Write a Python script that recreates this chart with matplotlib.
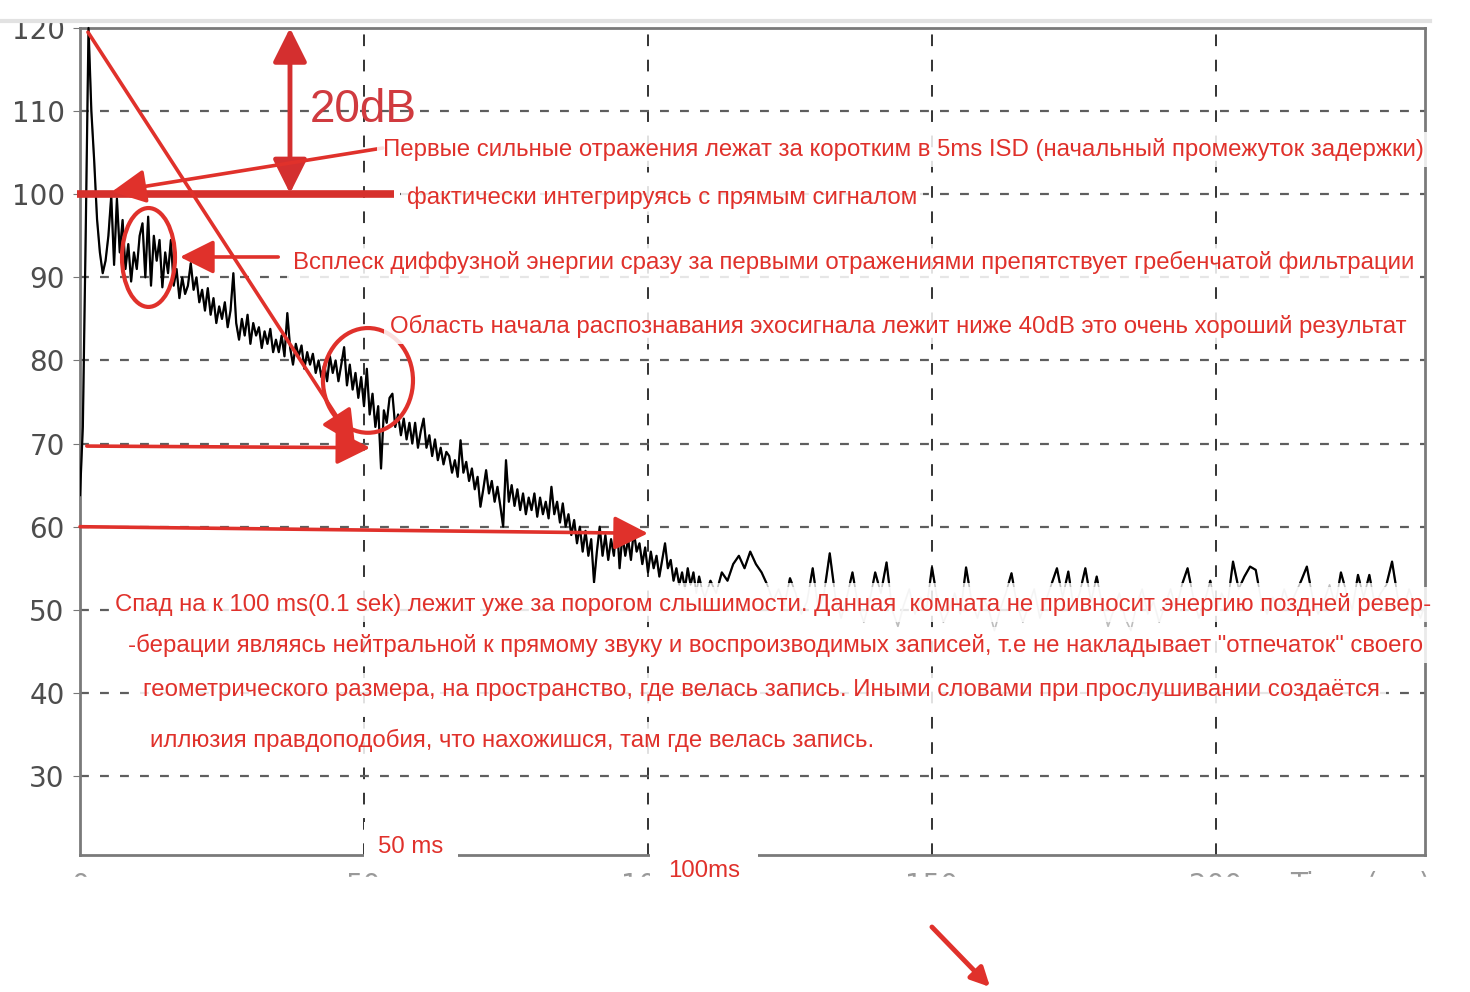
import numpy as np
import matplotlib.pyplot as plt
from matplotlib.patches import Ellipse, Rectangle, FancyArrowPatch
from matplotlib.lines import Line2D

plt.rcParams['font.family'] = ['Liberation Sans', 'DejaVu Sans']

# ─── DATOS ─────────────────────────────────────────────
# curva energía-tiempo, paso 0.5 ms desde 0 hasta 109.5 ms (dB)
PASO_INICIO = 0.5
nivel_inicio = [
    63.8, 72, 95, 120, 110, 104, 97, 93, 90.5, 92,
    95, 99.8, 91.5, 99.5, 93, 96.9, 91, 94, 89.5, 93,
    91, 95, 96.5, 90, 97.3, 89, 95, 92, 94.5, 88.8,
    93, 90.5, 94.5, 89, 91, 87.5, 90, 88, 89, 91.7,
    88.5, 90, 87, 88.5, 86, 88.7, 85.5, 87.5, 84.5, 86.5,
    85, 87, 84, 86, 90.5, 84.5, 82.5, 85, 83, 85.5,
    82, 84.5, 83, 84, 81.5, 83.5, 82, 83.8, 81, 82.5,
    81, 83, 80.5, 85.7, 81.5, 79.5, 82, 80.5, 81.8, 79,
    81, 79.5, 80.8, 78.5, 80, 78, 79.5, 77.5, 80.5, 78.5,
    80, 77.5, 79.5, 81.6, 77, 79.5, 76.5, 78.5, 75.5, 78,
    74.5, 79, 73.5, 76, 72, 74.5, 67, 74, 72.5, 75.5,
    76, 72, 73.5, 71, 73, 70.5, 72.5, 70, 72.5, 69.5,
    71.5, 73, 69.5, 71, 68.5, 70.5, 68, 69.5, 67.5, 69,
    68.5, 66.5, 68, 66, 70.4, 66.5, 67.8, 65.5, 67, 64.5,
    66, 62.4, 64.5, 66.8, 64, 65.5, 63, 64.8, 62.5, 60,
    68, 63, 65, 62.5, 64.5, 62, 64, 61.5, 63.5, 62,
    64, 61.2, 63.5, 61.5, 63, 61, 64.8, 61.5, 63, 60.5,
    62.8, 60, 61.5, 59, 60.8, 58, 60, 57, 59.5, 56.5,
    58.5, 53.3, 57, 60, 56.5, 59, 56, 58.5, 56.5, 60.8,
    55, 59, 56.5, 58.5, 56, 59.5, 57, 58, 55.5, 57.5,
    54.5, 57, 55, 56.5, 54, 56, 58, 55, 56, 53.5,
    55, 53, 54.5, 52.5, 55, 53, 54.5, 52, 54, 52.5,
]
# cola de ruido, paso 1 ms desde 110 hasta 237 ms (dB)
T_COLA = 110
PASO_COLA = 1.0
nivel_cola = [
    51.5, 53.5, 52, 54.5, 53.5, 55.5, 56.5, 55, 57, 55.5,
    54.5, 53, 51, 52.5, 50.5, 53.8, 52, 49.5, 51, 55,
    50, 52, 56.8, 51.5, 49, 51.5, 54.5, 50.5, 48.5, 51,
    54.5, 52, 55.7, 50, 48, 50.5, 52.5, 49.5, 51.5, 50,
    55.1, 51, 48.5, 50, 52, 49.5, 55.1, 51, 49, 51.5,
    50, 47.5, 50, 52, 54.4, 50.5, 48.5, 50.5, 52.5, 49,
    51, 53, 55, 51.5, 54.6, 50, 52, 55, 51, 54,
    50.5, 48, 50, 52, 49, 47.5, 50.5, 52.5, 49.5, 51,
    48.5, 50.5, 52.5, 50, 53, 55, 51.5, 49, 51, 53.5,
    50, 52, 50.5, 55.8, 52.5, 54, 55.2, 54.8, 51, 49.5,
    51.5, 50, 52.5, 50.5, 52, 53.5, 55.2, 51.5, 49.5, 51,
    53, 50.5, 54.5, 52, 50, 54.2, 51.5, 54.2, 50.5, 52,
    53, 55.8, 51.5, 50, 52.5, 50.5, 49, 51,
]
UMBRAL = 53.2        # debajo de este nivel el trazo negro queda recortado

y_ticks = [30, 40, 50, 60, 70, 80, 90, 100, 110, 120]
x_ticks = [0, 50, 100, 150, 200]
x_tick_labels = ['0', '50', '100', '150', '200']

ROJO = '#e0312b'

textos = [
    ("Первые сильные отражения лежат за коротким в 5ms ISD (начальный промежуток задержки)", 53.35, 105.44),
    ("фактически интегрируясь с прямым сигналом", 57.57, 99.55),
    ("Всплеск диффузной энергии сразу за первыми отражениями препятствует гребенчатой фильтрации", 37.5, 91.84),
    ("Область начала распознавания эхосигнала лежит ниже 40dB это очень хороший результат", 54.6, 84.14),
    ("Спад на к 100 ms(0.1 sek) лежит уже за порогом слышимости. Данная  комната не привносит энергию поздней ревер-", 6.16, 50.69),
    ("-берации являясь нейтральной к прямому звуку и воспроизводимых записей, т.е не накладывает \"отпечаток\" своего", 8.45, 45.76),
    ("геометрического размера, на пространство, где велась запись. Иными словами при прослушивании создаётся", 11.1, 40.35),
    ("иллюзия правдоподобия, что нахожишся, там где велась запись.", 12.3, 34.33),
]

# (cola, punta) de las flechas rojas en ms / dB
flechas = [
    ((53.3, 105.56), (5.6, 100.3)),
    ((34.9, 92.45), (17.6, 92.45)),
    ((1.4, 119.5), (48.4, 69.9)),
    ((1.2, 69.7), (51.1, 69.5)),
    ((0.0, 60.0), (100.0, 59.2)),
]

t = np.concatenate([np.arange(len(nivel_inicio)) * PASO_INICIO,
                    T_COLA + np.arange(len(nivel_cola)) * PASO_COLA])
nivel = np.array(nivel_inicio + nivel_cola)

# ─── FIGURA ────────────────────────────────────────────
fig = plt.figure(figsize=(14.7, 9.92), dpi=100)
ax = fig.add_axes([80 / 1470, 1 - 855 / 992, 1345 / 1470, 827 / 992])
ax.set_xlim(0, 236.8)
ax.set_ylim(20.5, 120)

ax.set_yticks(y_ticks)
ax.set_xticks(x_ticks)
ax.set_xticklabels(x_tick_labels)
ax.set_axisbelow(True)
ax.grid(True, axis='y', color='#5e5e5e', lw=1.6, linestyle=(0, (4, 5)))
ax.grid(True, axis='x', color='#333333', lw=1.4, linestyle=(0, (6, 7)))
for s in ax.spines.values():
    s.set_color('#7a7a7a')
    s.set_linewidth(2)
ax.tick_params(axis='y', labelsize=20, labelcolor='#4d4d4d', length=5, color='#777777', pad=6)
ax.tick_params(axis='x', labelsize=20, labelcolor='#999999', length=0, pad=12)
for lab in ax.get_yticklabels() + ax.get_xticklabels():
    lab.set_fontfamily('DejaVu Sans')

# curva: gris por debajo del umbral, negra por encima
ax.plot(t, nivel, color='#bdbdbd', lw=1.2, zorder=2)
linea, = ax.plot(t, nivel, color='black', lw=1.6, zorder=3)
linea.set_clip_path(Rectangle((0, UMBRAL), 300, 100, transform=ax.transData))

# anotaciones
ax.plot([-0.5, 55.2], [100, 100], color='#d6302c', lw=5.5,
        solid_capstyle='butt', clip_on=False, zorder=4)
ax.annotate('', xy=(36.97, 100.1), xytext=(36.97, 120),
            arrowprops=dict(arrowstyle='<|-|>', color='#d42f2f', lw=3.5,
                            mutation_scale=52, shrinkA=0, shrinkB=0),
            annotation_clip=False, zorder=5)
ax.text(40.5, 108.7, '20dB', fontsize=33, color='#d03a3f', va='baseline', zorder=5)

for (cola, punta) in flechas:
    ax.annotate('', xy=punta, xytext=cola,
                arrowprops=dict(arrowstyle='-|>', color=ROJO, lw=2.6,
                                mutation_scale=52, shrinkA=0, shrinkB=0),
                annotation_clip=False, zorder=5)

ax.add_patch(Ellipse((12.06, 92.39), 9.33, 11.9, fill=False, ec=ROJO, lw=3, zorder=5))
ax.add_patch(Ellipse((50.7, 77.6), 15.85, 12.6, fill=False, ec=ROJO, lw=3, zorder=5))

for txt, x, y in textos:
    ax.text(x, y, txt, fontsize=17.3, color=ROJO, va='center', ha='left', zorder=6,
            clip_on=False,
            bbox=dict(boxstyle='square,pad=0.25', fc='white', ec='none', alpha=0.85))

ax.text(52.5, 21.45, '50 ms', fontsize=17.3, color=ROJO, va='center', zorder=6,
        bbox=dict(boxstyle='square,pad=0.6', fc='white', ec='none'))

# bandas blancas que recortan la captura arriba y abajo
fig.text(1290 / 1470, 1 - 885 / 992, 'Time (ms)', fontsize=20, color='#999999',
         va='center', family='DejaVu Sans', zorder=3)
fig.add_artist(Rectangle((0, 0), 1, 1 - 877 / 992, transform=fig.transFigure,
                         color='white', zorder=5))
fig.add_artist(Rectangle((0, 1 - 20 / 992), 1, 20 / 992, transform=fig.transFigure,
                         color='white', zorder=5))
fig.add_artist(Line2D([0, 1430 / 1470], [1 - 21 / 992] * 2, color='#e2e2e2', lw=3,
                      transform=fig.transFigure, zorder=6))
fig.text(668 / 1470, 1 - 871 / 992, '100ms', fontsize=17.3, color=ROJO, va='center',
         zorder=7, bbox=dict(boxstyle='square,pad=0.75', fc='white', ec='none'))
fig.add_artist(FancyArrowPatch((930 / 1470, 1 - 925 / 992), (992 / 1470, 1 - 989 / 992),
                               transform=fig.transFigure, arrowstyle='-|>',
                               mutation_scale=28, color=ROJO, lw=3.5, zorder=8))

fig.savefig('out.png', dpi=100)
